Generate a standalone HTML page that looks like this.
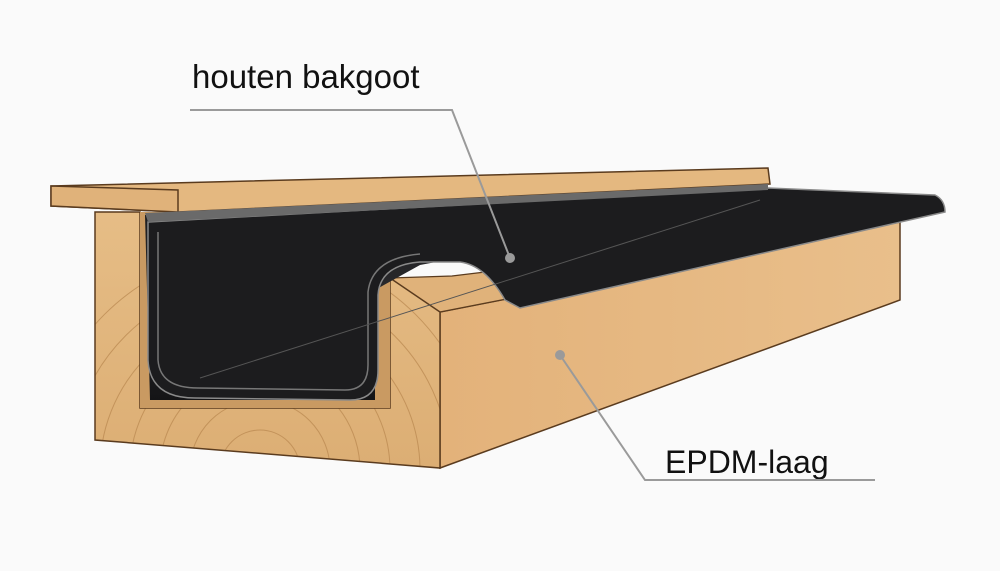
<!DOCTYPE html>
<html><head><meta charset="utf-8"><style>
html,body{margin:0;padding:0;background:#fafafa;overflow:hidden;width:1000px;height:571px}
svg{display:block;vertical-align:top}
text{font-family:"Liberation Sans",sans-serif;fill:#111}
</style></head><body>
<svg width="1000" height="571" viewBox="0 0 1000 571" xmlns="http://www.w3.org/2000/svg">
<defs>
<linearGradient id="side" x1="0" y1="0" x2="1" y2="0">
<stop offset="0" stop-color="#e3b27a"/><stop offset="1" stop-color="#e9bf8b"/></linearGradient>
<linearGradient id="front" x1="0" y1="0" x2="0" y2="1">
<stop offset="0" stop-color="#e6bd86"/><stop offset="1" stop-color="#dcae74"/></linearGradient>
<linearGradient id="blk" x1="0" y1="0" x2="0" y2="1">
<stop offset="0" stop-color="#1a1a1c"/><stop offset="0.6" stop-color="#2b2b2e"/><stop offset="1" stop-color="#141416"/></linearGradient>
<clipPath id="fc"><path d="M95,212 L140,212 L140,408 L390,408 L390,278 L440,312 L440,468 L95,440 Z"/></clipPath>
</defs>
<rect width="1000" height="571" fill="#fafafa"/>
<polygon points="440,312 900,222 900,300 440,468" fill="url(#side)" stroke="#5a3b1e" stroke-width="1.5"/>
<polygon points="390,278 452,276 900,222 440,312 390,312" fill="#e0b27a" stroke="#5a3b1e" stroke-width="1.2"/>
<path d="M95,212 L140,212 L140,408 L390,408 L390,278 L440,312 L440,468 L95,440 Z" fill="url(#front)"/>
<g fill="none" stroke="#b8874f" stroke-width="1" opacity="0.7" clip-path="url(#fc)">
<circle cx="260" cy="470" r="40"/><circle cx="260" cy="470" r="70"/><circle cx="260" cy="470" r="100"/><circle cx="260" cy="470" r="130"/><circle cx="260" cy="470" r="160"/><circle cx="260" cy="470" r="190"/><circle cx="260" cy="470" r="220"/>
</g>
<path d="M95,212 L140,212 L140,408 L390,408 L390,278 L440,312 L440,468 L95,440 Z" fill="none" stroke="#5a3b1e" stroke-width="1.5"/>
<rect x="140" y="212" width="250" height="196" fill="#c99a62"/>
<polygon points="145,215 768,182 768,200 420,265 375,290 375,400 150,400" fill="url(#blk)"/>
<path d="M148,222 L148,360 Q150,398 195,398 L350,400 Q378,400 378,370 L378,295 Q380,265 420,262 L460,262 Q485,265 505,300 L520,308 L945,212 Q945,200 935,195 L768,188 L148,222 Z" fill="#1c1c1e" stroke="#8a8a8a" stroke-width="1.5"/>
<path d="M158,232 L158,360 Q160,388 198,388 L345,390 Q368,390 368,365 L368,292 Q372,258 420,254" fill="none" stroke="#777" stroke-width="1.5"/>
<path d="M200,378 L760,200" stroke="#555" stroke-width="1"/>
<polygon points="51,186 768,168 770,184 178,212 51,206" fill="#e4b880" stroke="#5a3b1e" stroke-width="1.5"/>
<polygon points="51,186 178,190 178,212 51,206" fill="#e0b27a" stroke="#5a3b1e" stroke-width="1.5"/>
<polygon points="145,213 768,184 768,190 148,222" fill="#6a6a6a"/>
<text x="192" y="88" font-size="33">houten bakgoot</text>
<polyline points="190,110 452,110 510,258" fill="none" stroke="#9a9a9a" stroke-width="2"/>
<circle cx="510" cy="258" r="5" fill="#9a9a9a"/>
<text x="665" y="473" font-size="32">EPDM-laag</text>
<polyline points="875,480 645,480 560,355" fill="none" stroke="#9a9a9a" stroke-width="2"/>
<circle cx="560" cy="355" r="5" fill="#9a9a9a"/>
</svg>
</body></html>
